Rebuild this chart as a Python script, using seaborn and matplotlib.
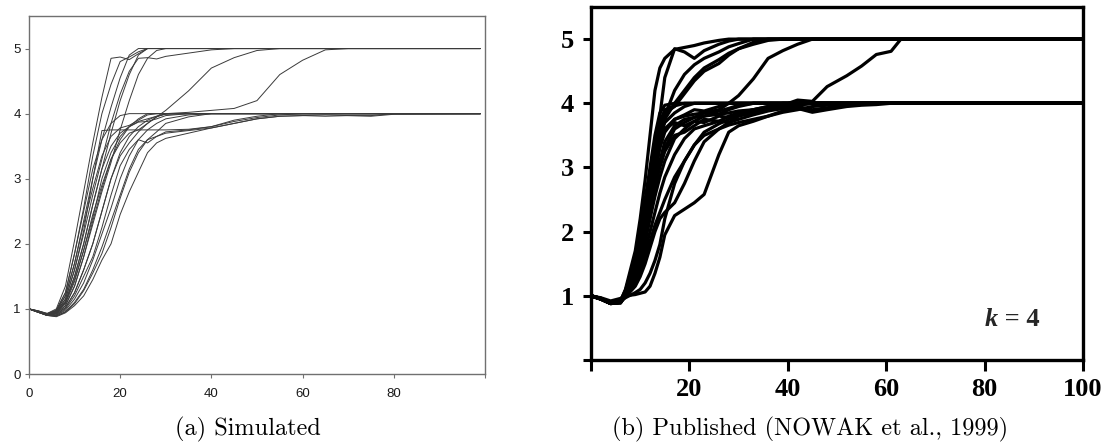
import matplotlib
matplotlib.use("Agg")
import matplotlib.pyplot as plt
import pandas as pd
import seaborn as sns

# ---------------------------------------------------------------------------
# (a) simulated runs: number of strategies vs. generation
# ---------------------------------------------------------------------------
sim_t = [0, 2, 4, 6, 8, 10, 12, 14, 16, 18, 20, 22, 24, 26, 28, 30,
         35, 40, 45, 50, 55, 60, 65, 70, 75, 80, 99]

sim_01 = [1.00, 0.97, 0.93, 1.00, 1.35, 2.05, 2.80, 3.55, 4.25, 4.85, 4.87, 4.83, 4.92, 5.00, 5.00, 5.00,
          5.00, 5.00, 5.00, 5.00, 5.00, 5.00, 5.00, 5.00, 5.00, 5.00, 5.00]
sim_02 = [1.00, 0.96, 0.92, 0.98, 1.25, 1.85, 2.55, 3.35, 4.00, 4.45, 4.80, 4.87, 4.95, 5.00, 5.00, 5.00,
          5.00, 5.00, 5.00, 5.00, 5.00, 5.00, 5.00, 5.00, 5.00, 5.00, 5.00]
sim_03 = [1.00, 0.96, 0.92, 0.97, 1.20, 1.70, 2.35, 3.00, 3.60, 4.10, 4.55, 4.90, 5.00, 5.00, 5.00, 5.00,
          5.00, 5.00, 5.00, 5.00, 5.00, 5.00, 5.00, 5.00, 5.00, 5.00, 5.00]
sim_04 = [1.00, 0.96, 0.91, 0.96, 1.15, 1.60, 2.15, 2.75, 3.30, 3.85, 4.30, 4.65, 4.85, 4.86, 4.84, 4.88,
          4.93, 4.98, 5.00, 5.00, 5.00, 5.00, 5.00, 5.00, 5.00, 5.00, 5.00]
sim_05 = [1.00, 0.95, 0.91, 0.95, 1.10, 1.50, 2.00, 2.60, 3.15, 3.70, 4.20, 4.60, 4.90, 5.00, 5.00, 5.00,
          5.00, 5.00, 5.00, 5.00, 5.00, 5.00, 5.00, 5.00, 5.00, 5.00, 5.00]
sim_06 = [1.00, 0.96, 0.91, 0.93, 1.05, 1.35, 1.80, 2.30, 2.80, 3.25, 3.75, 4.20, 4.60, 4.85, 4.97, 5.00,
          5.00, 5.00, 5.00, 5.00, 5.00, 5.00, 5.00, 5.00, 5.00, 5.00, 5.00]
sim_07 = [1.00, 0.97, 0.92, 0.94, 1.08, 1.42, 1.90, 2.45, 2.90, 3.30, 3.55, 3.70, 3.75, 3.85, 3.95, 4.05,
          4.35, 4.70, 4.86, 4.97, 5.00, 5.00, 5.00, 5.00, 5.00, 5.00, 5.00]
sim_08 = [1.00, 0.96, 0.91, 0.91, 1.02, 1.25, 1.60, 2.00, 2.50, 3.00, 3.35, 3.55, 3.72, 3.85, 3.95, 4.00,
          4.02, 4.05, 4.08, 4.20, 4.60, 4.82, 4.98, 5.00, 5.00, 5.00, 5.00]
sim_09 = [1.00, 0.97, 0.93, 0.98, 1.25, 1.85, 2.50, 3.15, 3.60, 3.85, 3.97, 4.00, 4.00, 4.00, 4.00, 4.00,
          4.00, 4.00, 4.00, 4.00, 4.00, 4.00, 4.00, 4.00, 4.00, 4.00, 4.00]
sim_10 = [1.00, 0.96, 0.92, 0.97, 1.20, 1.70, 2.30, 2.85, 3.35, 3.65, 3.78, 3.82, 3.90, 3.98, 4.00, 4.00,
          4.00, 4.00, 4.00, 4.00, 4.00, 4.00, 4.00, 4.00, 4.00, 4.00, 4.00]
sim_11 = [1.00, 0.95, 0.91, 0.96, 1.15, 1.60, 2.20, 3.00, 3.74, 3.75, 3.75, 3.75, 3.75, 3.75, 3.75, 3.75,
          3.76, 3.80, 3.88, 3.94, 3.98, 4.00, 4.00, 4.00, 4.00, 4.00, 4.00]
sim_12 = [1.00, 0.96, 0.91, 0.95, 1.10, 1.45, 1.90, 2.40, 3.00, 3.40, 3.65, 3.80, 3.88, 3.92, 3.96, 3.99,
          4.00, 4.00, 4.00, 4.00, 4.00, 4.00, 4.00, 4.00, 4.00, 4.00, 4.00]
sim_13 = [1.00, 0.95, 0.90, 0.90, 1.00, 1.20, 1.50, 1.80, 2.25, 2.75, 3.20, 3.45, 3.60, 3.55, 3.65, 3.70,
          3.74, 3.78, 3.85, 3.92, 3.96, 3.97, 3.96, 3.97, 3.97, 4.00, 4.00]
sim_14 = [1.00, 0.96, 0.91, 0.93, 1.05, 1.35, 1.80, 2.35, 2.85, 3.30, 3.60, 3.80, 3.92, 4.00, 4.00, 4.00,
          4.00, 4.00, 4.00, 4.00, 4.00, 4.00, 4.00, 4.00, 4.00, 4.00, 4.00]
sim_15 = [1.00, 0.95, 0.90, 0.92, 1.02, 1.25, 1.60, 2.00, 2.50, 3.00, 3.40, 3.65, 3.80, 3.90, 3.96, 4.00,
          4.00, 4.00, 4.00, 4.00, 4.00, 4.00, 4.00, 4.00, 4.00, 4.00, 4.00]
sim_16 = [1.00, 0.95, 0.90, 0.90, 0.98, 1.15, 1.40, 1.75, 2.15, 2.55, 3.00, 3.35, 3.60, 3.75, 3.85, 3.92,
          3.98, 4.00, 4.00, 4.00, 4.00, 4.00, 4.00, 4.00, 4.00, 4.00, 4.00]
sim_17 = [1.00, 0.96, 0.90, 0.89, 0.96, 1.10, 1.30, 1.60, 1.95, 2.35, 2.75, 3.15, 3.45, 3.60, 3.72, 3.85,
          3.95, 4.00, 4.00, 4.00, 4.00, 4.00, 4.00, 4.00, 4.00, 4.00, 4.00]
sim_18 = [1.00, 0.95, 0.90, 0.88, 0.94, 1.05, 1.20, 1.45, 1.75, 2.00, 2.45, 2.80, 3.10, 3.40, 3.55, 3.62,
          3.70, 3.78, 3.85, 3.92, 3.96, 3.97, 3.98, 3.97, 3.96, 3.99, 4.00]
sim_19 = [1.00, 0.96, 0.91, 0.95, 1.12, 1.50, 2.00, 2.60, 3.15, 3.50, 3.70, 3.80, 3.87, 3.88, 3.92, 3.97,
          4.00, 4.00, 4.00, 4.00, 4.00, 4.00, 4.00, 4.00, 4.00, 4.00, 4.00]
sim_20 = [1.00, 0.95, 0.90, 0.89, 0.95, 1.08, 1.28, 1.55, 1.85, 2.25, 2.70, 3.10, 3.40, 3.60, 3.65, 3.72,
          3.75, 3.80, 3.90, 3.96, 4.00, 4.00, 4.00, 4.00, 4.00, 4.00, 4.00]

sim_xticks = [0, 20, 40, 60, 80, 100]
sim_xticklabels = ["0", "20", "40", "60", "80", ""]
sim_yticks = [0, 1, 2, 3, 4, 5]
sim_yticklabels = ["0", "1", "2", "3", "4", "5"]

# ---------------------------------------------------------------------------
# (b) published runs (Nowak et al., 1999), k = 4
# ---------------------------------------------------------------------------
pub_t = [0, 2, 4, 6, 7, 9, 10, 11, 12, 13, 14, 15, 17, 19, 21, 23, 26, 28, 30,
         33, 36, 39, 42, 45, 48, 52, 55, 58, 61, 63, 70, 100]

pub_01 = [1.00, 0.95, 0.88, 0.92, 1.10, 1.70, 2.20, 2.80, 3.50, 4.20, 4.55, 4.70, 4.84, 4.87, 4.90, 4.94, 4.98, 5.00, 5.00,
          5.00, 5.00, 5.00, 5.00, 5.00, 5.00, 5.00, 5.00, 5.00, 5.00, 5.00, 5.00, 5.00]
pub_02 = [1.00, 0.95, 0.88, 0.90, 1.05, 1.45, 1.75, 2.15, 2.65, 3.20, 3.80, 4.40, 4.85, 4.80, 4.70, 4.82, 4.92, 4.97, 5.00,
          5.00, 5.00, 5.00, 5.00, 5.00, 5.00, 5.00, 5.00, 5.00, 5.00, 5.00, 5.00, 5.00]
pub_03 = [1.00, 0.96, 0.89, 0.90, 1.03, 1.35, 1.60, 1.95, 2.40, 2.90, 3.40, 3.80, 4.20, 4.45, 4.60, 4.70, 4.80, 4.88, 4.93,
          5.00, 5.00, 5.00, 5.00, 5.00, 5.00, 5.00, 5.00, 5.00, 5.00, 5.00, 5.00, 5.00]
pub_04 = [1.00, 0.95, 0.88, 0.89, 1.01, 1.30, 1.55, 1.90, 2.35, 2.85, 3.35, 3.75, 4.00, 4.20, 4.40, 4.55, 4.68, 4.78, 4.85,
          4.95, 5.00, 5.00, 5.00, 5.00, 5.00, 5.00, 5.00, 5.00, 5.00, 5.00, 5.00, 5.00]
pub_05 = [1.00, 0.96, 0.90, 0.91, 1.03, 1.40, 1.70, 2.10, 2.70, 3.20, 3.60, 3.85, 3.95, 4.15, 4.35, 4.50, 4.62, 4.75, 4.85,
          4.92, 4.98, 5.00, 5.00, 5.00, 5.00, 5.00, 5.00, 5.00, 5.00, 5.00, 5.00, 5.00]
pub_06 = [1.00, 0.95, 0.88, 0.90, 1.02, 1.38, 1.65, 2.00, 2.45, 2.95, 3.35, 3.60, 3.75, 3.80, 3.83, 3.85, 3.90, 4.00, 4.12,
          4.38, 4.70, 4.82, 4.92, 5.00, 5.00, 5.00, 5.00, 5.00, 5.00, 5.00, 5.00, 5.00]
pub_07 = [1.00, 0.96, 0.89, 0.90, 1.01, 1.32, 1.55, 1.85, 2.25, 2.70, 3.10, 3.40, 3.65, 3.75, 3.78, 3.80, 3.83, 3.85, 3.88,
          3.90, 3.93, 3.97, 4.05, 4.03, 4.26, 4.43, 4.58, 4.76, 4.81, 5.00, 5.00, 5.00]
pub_08 = [1.00, 0.95, 0.88, 0.92, 1.08, 1.60, 2.00, 2.50, 3.00, 3.50, 3.85, 3.97, 4.00, 4.00, 4.00, 4.00, 4.00, 4.00, 4.00,
          4.00, 4.00, 4.00, 4.00, 4.00, 4.00, 4.00, 4.00, 4.00, 4.00, 4.00, 4.00, 4.00]
pub_09 = [1.00, 0.96, 0.89, 0.91, 1.06, 1.50, 1.85, 2.30, 2.80, 3.20, 3.50, 3.70, 3.85, 3.95, 4.00, 4.00, 4.00, 4.00, 4.00,
          4.00, 4.00, 4.00, 4.00, 4.00, 4.00, 4.00, 4.00, 4.00, 4.00, 4.00, 4.00, 4.00]
pub_10 = [1.00, 0.95, 0.88, 0.90, 1.05, 1.40, 1.70, 2.10, 2.50, 2.95, 3.30, 3.55, 3.75, 3.82, 3.90, 3.88, 3.95, 4.00, 4.00,
          4.00, 4.00, 4.00, 4.00, 4.00, 4.00, 4.00, 4.00, 4.00, 4.00, 4.00, 4.00, 4.00]
pub_11 = [1.00, 0.96, 0.89, 0.90, 1.04, 1.35, 1.60, 1.95, 2.35, 2.75, 3.05, 3.30, 3.60, 3.70, 3.78, 3.85, 3.83, 3.90, 3.95,
          4.00, 4.00, 4.00, 4.00, 4.00, 4.00, 4.00, 4.00, 4.00, 4.00, 4.00, 4.00, 4.00]
pub_12 = [1.00, 0.95, 0.88, 0.89, 1.02, 1.30, 1.55, 1.85, 2.20, 2.55, 2.85, 3.10, 3.45, 3.60, 3.72, 3.70, 3.80, 3.78, 3.85,
          3.90, 3.95, 3.97, 4.00, 4.00, 4.00, 4.00, 4.00, 4.00, 4.00, 4.00, 4.00, 4.00]
pub_13 = [1.00, 0.96, 0.90, 0.90, 1.01, 1.25, 1.45, 1.70, 2.00, 2.30, 2.60, 2.85, 3.20, 3.45, 3.60, 3.65, 3.72, 3.70, 3.80,
          3.85, 3.90, 3.92, 3.95, 3.90, 3.93, 3.97, 4.00, 4.00, 4.00, 4.00, 4.00, 4.00]
pub_14 = [1.00, 0.95, 0.89, 0.89, 1.00, 1.20, 1.40, 1.60, 1.85, 2.10, 2.30, 2.50, 2.85, 3.10, 3.35, 3.50, 3.60, 3.66, 3.70,
          3.75, 3.80, 3.88, 3.92, 3.86, 3.90, 3.95, 3.97, 3.98, 4.00, 4.00, 4.00, 4.00]
pub_15 = [1.00, 0.97, 0.92, 0.96, 1.00, 1.02, 1.04, 1.06, 1.15, 1.35, 1.60, 1.95, 2.25, 2.35, 2.45, 2.58, 3.20, 3.55, 3.65,
          3.72, 3.80, 3.86, 3.90, 3.95, 3.97, 4.00, 4.00, 4.00, 4.00, 4.00, 4.00, 4.00]
pub_16 = [1.00, 0.95, 0.88, 0.90, 0.98, 1.15, 1.30, 1.50, 1.75, 2.00, 2.20, 2.30, 2.45, 2.75, 3.10, 3.40, 3.60, 3.70, 3.75,
          3.82, 3.88, 3.92, 3.97, 4.00, 4.00, 4.00, 4.00, 4.00, 4.00, 4.00, 4.00, 4.00]
pub_17 = [1.00, 0.96, 0.89, 0.91, 1.06, 1.45, 1.80, 2.20, 2.65, 3.05, 3.40, 3.60, 3.70, 3.65, 3.72, 3.80, 3.88, 3.92, 3.97,
          4.00, 4.00, 4.00, 4.00, 4.00, 4.00, 4.00, 4.00, 4.00, 4.00, 4.00, 4.00, 4.00]
pub_18 = [1.00, 0.95, 0.88, 0.92, 1.08, 1.50, 1.90, 2.35, 2.85, 3.35, 3.70, 3.90, 3.96, 4.00, 4.00, 4.00, 4.00, 4.00, 4.00,
          4.00, 4.00, 4.00, 4.00, 4.00, 4.00, 4.00, 4.00, 4.00, 4.00, 4.00, 4.00, 4.00]
pub_19 = [1.00, 0.96, 0.89, 0.90, 1.03, 1.30, 1.55, 1.90, 2.30, 2.70, 3.00, 3.25, 3.50, 3.55, 3.65, 3.75, 3.72, 3.80, 3.85,
          3.88, 3.92, 3.95, 3.97, 4.00, 4.00, 4.00, 4.00, 4.00, 4.00, 4.00, 4.00, 4.00]
pub_20 = [1.00, 0.95, 0.90, 0.92, 0.97, 1.05, 1.10, 1.20, 1.35, 1.55, 1.80, 2.20, 2.75, 3.10, 3.35, 3.55, 3.68, 3.75, 3.82,
          3.90, 3.95, 4.00, 4.00, 4.00, 4.00, 4.00, 4.00, 4.00, 4.00, 4.00, 4.00, 4.00]

pub_xticks = [0, 20, 40, 60, 80, 100]
pub_xticklabels = ["", "20", "40", "60", "80", "100"]
pub_yticks = [0, 1, 2, 3, 4, 5]
pub_yticklabels = ["", "1", "2", "3", "4", "5"]

caption_a = "(a) Simulated"
caption_b = "(b) Published (NOWAK et al., 1999)"


def long_table(t, runs):
    rows = []
    for name, vals in runs.items():
        assert len(vals) == len(t), name
        rows.extend((name, ti, v) for ti, v in zip(t, vals))
    return pd.DataFrame(rows, columns=["run", "step", "value"])


sim_df = long_table(sim_t, {
    "01": sim_01, "02": sim_02, "03": sim_03, "04": sim_04, "05": sim_05,
    "06": sim_06, "07": sim_07, "08": sim_08, "09": sim_09, "10": sim_10,
    "11": sim_11, "12": sim_12, "13": sim_13, "14": sim_14, "15": sim_15,
    "16": sim_16, "17": sim_17, "18": sim_18, "19": sim_19, "20": sim_20,
})
pub_df = long_table(pub_t, {
    "01": pub_01, "02": pub_02, "03": pub_03, "04": pub_04, "05": pub_05,
    "06": pub_06, "07": pub_07, "08": pub_08, "09": pub_09, "10": pub_10,
    "11": pub_11, "12": pub_12, "13": pub_13, "14": pub_14, "15": pub_15,
    "16": pub_16, "17": pub_17, "18": pub_18, "19": pub_19, "20": pub_20,
})

sns.set_theme(style="white")
plt.rcParams["font.family"] = ["DejaVu Sans"]

fig = plt.figure(figsize=(11.09, 4.47), dpi=100)
ax_a = fig.add_axes([0.0261, 0.1633, 0.4112, 0.8009])
ax_b = fig.add_axes([0.5329, 0.1946, 0.4436, 0.7897])

# ---- panel (a): thin grey spreadsheet-style lines ----
sns.lineplot(data=sim_df, x="step", y="value", units="run", estimator=None,
             color="#3a3a3a", linewidth=0.7, ax=ax_a, legend=False)
ax_a.set(xlabel="", ylabel="", xlim=(0, 100), ylim=(0, 5.5))
ax_a.set_xticks(sim_xticks, sim_xticklabels, fontfamily="Liberation Sans",
                fontsize=9.5, color="#1a1a1a")
ax_a.set_yticks(sim_yticks, sim_yticklabels, fontfamily="Liberation Sans",
                fontsize=9.5, color="#1a1a1a")
ax_a.tick_params(axis="both", which="major", bottom=True, left=True,
                 direction="out", length=3, width=0.8, color="#707070")
ax_a.tick_params(axis="x", pad=7)
ax_a.tick_params(axis="y", pad=3)
for sp in ax_a.spines.values():
    sp.set_visible(True)
    sp.set_color("#707070")
    sp.set_linewidth(1.0)

# ---- panel (b): heavy black printed lines ----
sns.lineplot(data=pub_df, x="step", y="value", units="run", estimator=None,
             color="black", linewidth=2.3, ax=ax_b, legend=False,
             solid_joinstyle="round", solid_capstyle="round")
ax_b.set(xlabel="", ylabel="", xlim=(0, 100), ylim=(0, 5.5))
ax_b.set_xticks(pub_xticks, pub_xticklabels, fontfamily="Liberation Serif",
                fontweight="bold", fontsize=19, color="black")
ax_b.set_yticks(pub_yticks, pub_yticklabels, fontfamily="Liberation Serif",
                fontweight="bold", fontsize=19, color="black")
ax_b.tick_params(axis="both", which="major", bottom=True, left=True,
                 direction="out", width=2.2, color="black")
ax_b.tick_params(axis="x", length=8, pad=5)
ax_b.tick_params(axis="y", length=6, pad=6)
for sp in ax_b.spines.values():
    sp.set_visible(True)
    sp.set_color("black")
    sp.set_linewidth(2.4)

k_txt = ax_b.text(80.0, 0.63, "k", fontfamily="Liberation Serif", fontstyle="italic",
                  fontweight="bold", fontsize=19, ha="left", va="center")
ax_b.annotate(" = 4", xy=(1, 0), xycoords=k_txt, ha="left", va="bottom",
              fontfamily="Liberation Serif", fontweight="bold", fontsize=19)

# ---- sub-captions ----
fig.text(0.2236, 0.040, caption_a, fontfamily="cmr10", fontsize=17.5,
         ha="center", va="center", color="black")
fig.text(0.7304, 0.040, caption_b, fontfamily="cmr10", fontsize=17.5,
         ha="center", va="center", color="black")

fig.savefig("out.png", dpi=100, facecolor="white")
